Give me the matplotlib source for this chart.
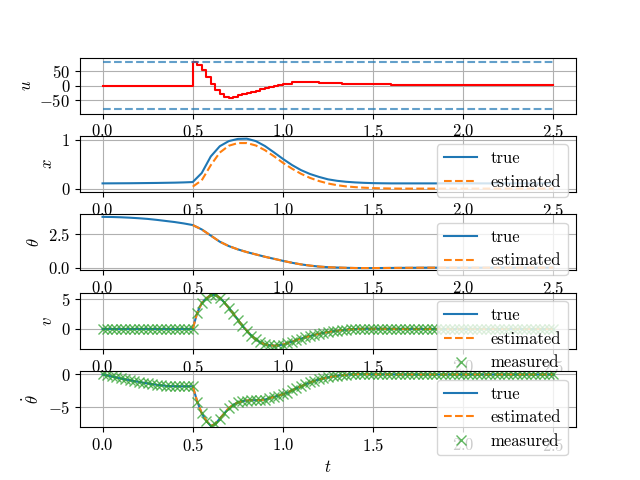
import numpy as np
import matplotlib
matplotlib.use("Agg")
import matplotlib.pyplot as plt

plt.rcParams['font.family'] = 'serif'
plt.rcParams['font.serif'] = ['cmr10']
plt.rcParams['mathtext.fontset'] = 'cm'
plt.rcParams['axes.formatter.use_mathtext'] = True
plt.rcParams['font.size'] = 12

# ---------------- data ----------------
# control input (steps-post)
u_t = [0.0, 0.5, 0.525, 0.55, 0.575, 0.6, 0.625, 0.65, 0.675, 0.7, 0.725, 0.75,
       0.775, 0.8, 0.825, 0.85, 0.875, 0.9, 0.925, 0.95, 0.975, 1.0, 1.05, 1.2,
       1.33, 1.6, 2.5]
u_vals = [0, 80, 68, 54, 30, 4, -14, -28, -37, -40, -37, -33, -29, -25, -21, -17,
          -12, -8, -5, -2, 1, 5.5, 11, 8, 4.5, 1, 1]
u_bound = 80

# cart position (0.05 s grid)
t_pos = [round(0.05 * i, 3) for i in range(51)]
x_true = [0.107, 0.108, 0.109, 0.110, 0.112, 0.114, 0.116, 0.119, 0.122, 0.127, 0.134,
          0.32, 0.66, 0.87, 0.975, 1.02, 1.025, 0.975, 0.875, 0.745, 0.61, 0.485, 0.38,
          0.30, 0.24, 0.19, 0.16, 0.14, 0.127, 0.118, 0.112, 0.109,
          0.107, 0.107, 0.107, 0.107, 0.107, 0.107, 0.107, 0.107, 0.107, 0.107,
          0.107, 0.107, 0.107, 0.107, 0.107, 0.107, 0.107, 0.107, 0.107]
x_est = [0.04, 0.17, 0.48, 0.74, 0.88, 0.935, 0.935, 0.885, 0.79, 0.665, 0.53, 0.41,
         0.305, 0.22, 0.155, 0.105, 0.07, 0.045, 0.03, 0.018, 0.01, 0.005, 0.002,
         0.0, 0.0, 0.0, 0.0, 0.0, 0.0, 0.0, 0.0, 0.0, 0.0, 0.0, 0.0, 0.0, 0.0, 0.0,
         0.0, 0.0, 0.0]

theta_true = [3.72, 3.71, 3.69, 3.66, 3.62, 3.57, 3.50, 3.42, 3.34, 3.24, 3.12,
              2.80, 2.35, 1.90, 1.58, 1.34, 1.14, 0.97, 0.80, 0.65, 0.50, 0.36, 0.24,
              0.15, 0.08, 0.035, 0.01, -0.01, -0.025, -0.03, -0.03, -0.025, -0.02,
              -0.015, -0.01, -0.005,
              0, 0, 0, 0, 0, 0, 0, 0, 0, 0, 0, 0, 0, 0, 0]
theta_est = [3.12, 2.80, 2.35, 1.90, 1.58, 1.34, 1.14, 0.97, 0.80, 0.65, 0.50, 0.36,
             0.24, 0.15, 0.08, 0.035, 0.01, -0.01, -0.025, -0.03, -0.03, -0.025, -0.02,
             -0.015, -0.01, -0.005, 0, 0, 0, 0, 0, 0, 0, 0, 0, 0, 0, 0, 0, 0, 0]

# velocities (0.025 s grid, measurement instants)
t_meas = [round(0.025 * i, 4) for i in range(101)]
v_vals = [0.0] * 21 + [
    2.7, 4.3, 5.1, 5.6, 5.65, 5.2, 4.4, 3.5, 2.55, 1.55, 0.55, -0.3, -1.1, -1.75,
    -2.25, -2.55, -2.72, -2.78, -2.72, -2.6, -2.35, -2.1, -1.85, -1.6, -1.38, -1.17,
    -0.98, -0.81, -0.65, -0.52, -0.4, -0.3, -0.2, -0.12, -0.06, -0.02, 0.01, 0.03,
    0.04, 0.04,
    0.04, 0.03, 0.03, 0.02, 0.02, 0.01, 0.01, 0.01, 0.0, 0.0, 0.0, 0.0, 0.0, 0.0,
    0.0, 0.0, 0.0, 0.0, 0.0, 0.0, 0.0, 0.0, 0.0, 0.0, 0.0, 0.0, 0.0, 0.0, 0.0, 0.0,
    0.0, 0.0, 0.0, 0.0, 0.0, 0.0, 0.0, 0.0, 0.0, 0.0]
thdot_vals = [0, -0.15, -0.3, -0.45, -0.6, -0.74, -0.87, -1.0, -1.12, -1.24, -1.35,
              -1.46, -1.56, -1.65, -1.72, -1.76, -1.78, -1.79, -1.79, -1.79, -1.79,
              -4.1, -5.9, -7.0, -7.8, -7.5, -6.7, -5.9, -5.1, -4.6, -4.25, -4.05,
              -3.95, -3.9, -3.9, -3.88, -3.8, -3.6, -3.4, -3.2, -3.0, -2.75, -2.4,
              -2.1, -1.8, -1.5, -1.2, -0.95, -0.75, -0.58, -0.43, -0.3, -0.2, -0.12,
              -0.05, 0.0, 0.03, 0.05, 0.05, 0.04, 0.03,
              0.02, 0.02, 0.02, 0.02, 0.01, 0.01, 0.01, 0.01, 0.0, 0.0, 0.0, 0.0,
              0.0, 0.0, 0.0, 0.0, 0.0, 0.0, 0.0, 0.0, 0.0, 0.0, 0.0, 0.0, 0.0, 0.0,
              0.0, 0.0, 0.0, 0.0, 0.0, 0.0, 0.0, 0.0, 0.0, 0.0, 0.0, 0.0, 0.0, 0.0]
est_start = 20  # index of t = 0.5 on the 0.025 grid
pos_est_start = 10  # index of t = 0.5 on the 0.05 grid

# ---------------- plot ----------------
fig, axes = plt.subplots(5, 1, figsize=(6.4, 4.8), dpi=100)
fig.subplots_adjust(hspace=0.4)

ax = axes[0]
ax.plot(u_t, u_vals, 'r', drawstyle='steps-post')
ax.plot([t_meas[0], t_meas[-1]], [u_bound, u_bound], '--', color='C0', alpha=0.7)
ax.plot([t_meas[0], t_meas[-1]], [-u_bound, -u_bound], '--', color='C0', alpha=0.7)
ax.set_ylim(-94, 94)
ax.set_yticks([-50, 0, 50])
ax.set_ylabel(r'$u$')

ax = axes[1]
ax.plot(t_pos, x_true, color='C0', label='true')
ax.plot(t_pos[pos_est_start:], x_est, '--', color='C1', label='estimated')
ax.set_ylim(-0.07, 1.08)
ax.set_yticks([0, 1])
ax.set_ylabel(r'$x$')
ax.legend(loc='upper right')

ax = axes[2]
ax.plot(t_pos, theta_true, color='C0', label='true')
ax.plot(t_pos[pos_est_start:], theta_est, '--', color='C1', label='estimated')
ax.set_ylim(-0.2, 3.9)
ax.set_yticks([0, 2.5])
ax.set_ylabel(r'$\theta$')
ax.legend(loc='upper right')

ax = axes[3]
ax.plot(t_meas, v_vals, color='C0', label='true')
ax.plot(t_meas[est_start:], v_vals[est_start:], '--', color='C1', label='estimated')
ax.plot(t_meas, v_vals, 'x', color='C2', alpha=0.75, markersize=7, label='measured')
ax.set_ylim(-3.3, 6.0)
ax.set_yticks([0, 5])
ax.set_ylabel(r'$v$')
ax.legend(loc='upper right')

ax = axes[4]
ax.plot(t_meas, thdot_vals, color='C0', label='true')
ax.plot(t_meas[est_start:], thdot_vals[est_start:], '--', color='C1', label='estimated')
ax.plot(t_meas, thdot_vals, 'x', color='C2', alpha=0.75, markersize=7, label='measured')
ax.set_ylim(-8.0, 0.5)
ax.set_yticks([-5, 0])
ax.set_ylabel(r'$\dot{\theta}$')
ax.set_xlabel(r'$t$')
ax.legend(loc='upper right')

for ax in axes:
    ax.grid(True)
    ax.set_xlim(-0.125, 2.625)
    ax.set_xticks([0.0, 0.5, 1.0, 1.5, 2.0, 2.5])

fig.savefig('out.png', dpi=100)
